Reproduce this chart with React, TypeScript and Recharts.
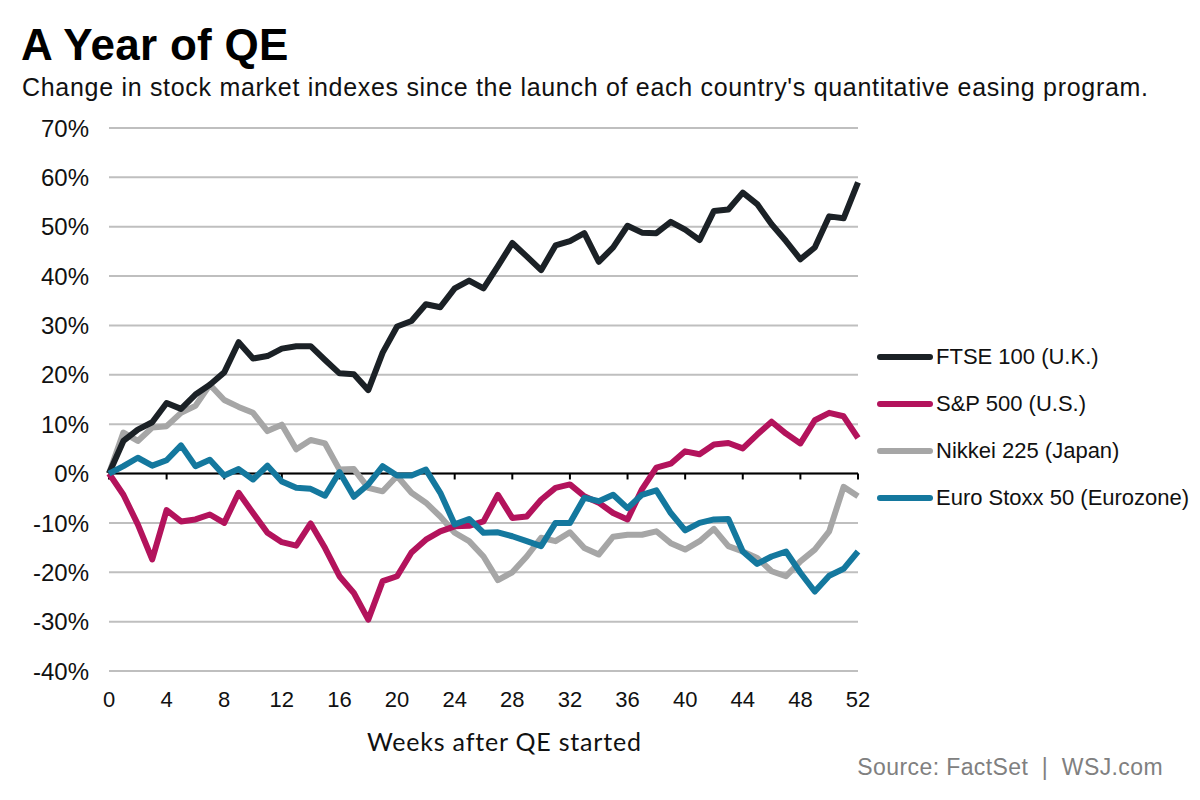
import { LineChart, Line, XAxis, YAxis, CartesianGrid, ReferenceLine, Legend } from "recharts"

const weeks = [
  0, 1, 2, 3, 4, 5, 6, 7, 8, 9, 10, 11, 12, 13, 14, 15, 16, 17, 18, 19, 20, 21, 22, 23, 24, 25, 26,
  27, 28, 29, 30, 31, 32, 33, 34, 35, 36, 37, 38, 39, 40, 41, 42, 43, 44, 45, 46, 47, 48, 49, 50, 51, 52,
]

const ftse = [
  0, 6.6, 8.9, 10.4, 14.3, 13.1, 16.0, 18.0, 20.5, 26.6,
  23.3, 23.8, 25.3, 25.8, 25.8, 23.0, 20.3, 20.1, 16.9, 24.5,
  29.8, 30.9, 34.3, 33.7, 37.5, 39.1, 37.5, 42.0, 46.7, 44.0,
  41.2, 46.2, 47.1, 48.7, 42.9, 45.8, 50.2, 48.8, 48.7, 51.0,
  49.4, 47.3, 53.2, 53.5, 56.9, 54.6, 50.5, 47.1, 43.4, 45.8,
  52.1, 51.7, 59.0,
]

const sp500 = [
  0, -4.3, -10.3, -17.4, -7.4, -9.7, -9.3, -8.3, -10.0, -3.9,
  -8.0, -12.0, -13.9, -14.6, -10.1, -15.1, -20.8, -24.2, -29.6, -21.8,
  -20.8, -16.0, -13.4, -11.7, -10.7, -10.6, -9.7, -4.3, -9.0, -8.7,
  -5.3, -2.9, -2.2, -4.6, -5.9, -8.0, -9.3, -3.2, 1.2, 2.0,
  4.5, 3.9, 5.9, 6.2, 5.1, 7.9, 10.5, 8.1, 6.1, 10.8,
  12.3, 11.6, 7.2,
]

const nikkei = [
  0, 8.3, 6.6, 9.3, 9.6, 12.3, 13.7, 18.0, 14.9, 13.5,
  12.3, 8.6, 9.9, 4.9, 6.8, 6.1, 0.8, 0.9, -2.9, -3.6,
  -0.5, -3.9, -5.9, -8.7, -12.0, -13.7, -16.8, -21.6, -20.0, -16.8,
  -13.0, -13.7, -11.9, -15.1, -16.4, -12.8, -12.4, -12.4, -11.7, -14.1,
  -15.4, -13.7, -11.2, -14.7, -15.8, -17.1, -19.8, -20.8, -17.8, -15.4,
  -11.7, -2.7, -4.6,
]

const stoxx = [
  0, 1.5, 3.2, 1.6, 2.7, 5.7, 1.5, 2.8, -0.4, 0.9,
  -1.2, 1.6, -1.6, -2.9, -3.1, -4.5, 0.3, -4.7, -2.2, 1.5,
  -0.4, -0.4, 0.8, -3.9, -10.3, -9.2, -12.0, -11.9, -12.7, -13.7,
  -14.7, -10.0, -10.0, -4.9, -5.6, -4.3, -7.0, -4.3, -3.4, -8.0,
  -11.5, -10.0, -9.3, -9.2, -15.8, -18.3, -16.8, -15.8, -20.1, -23.9,
  -20.7, -19.3, -15.8,
]

const xTicks = [0, 4, 8, 12, 16, 20, 24, 28, 32, 36, 40, 44, 48, 52]
const yTicks = [-40, -30, -20, -10, 0, 10, 20, 30, 40, 50, 60, 70]

const legendOrder = ["FTSE 100 (U.K.)", "S&P 500 (U.S.)", "Nikkei 225 (Japan)", "Euro Stoxx 50 (Eurozone)"]

const data = weeks.map((w, i) => ({
  week: w,
  ftse: ftse[i],
  sp500: sp500[i],
  nikkei: nikkei[i],
  stoxx: stoxx[i],
}))

const FONT = "'Liberation Sans', Arial, sans-serif"

function YTick({ x, y, payload }: any) {
  return (
    <text x={x - 12} y={y} dy="0.36em" textAnchor="end" fontSize={24} fill="#111" fontFamily={FONT}>
      {payload.value}%
    </text>
  )
}

function XTick({ x, y, payload }: any) {
  return (
    <text x={x} y={y} dy="1.25em" textAnchor="middle" fontSize={22} fill="#111" fontFamily={FONT}>
      {payload.value}
    </text>
  )
}

function LegendBox({ payload }: any) {
  const items = [...(payload || [])].sort(
    (a: any, b: any) => legendOrder.indexOf(a.value) - legendOrder.indexOf(b.value)
  )
  return (
    <div style={{ fontFamily: FONT }}>
      {items.map((it: any) => (
        <div key={it.value} style={{ display: "flex", alignItems: "center", height: 47 }}>
          <svg width={58} height={10} style={{ display: "block" }}>
            <line x1={4} y1={5} x2={54} y2={5} stroke={it.color} strokeWidth={6} strokeLinecap="round" />
          </svg>
          <span style={{ fontSize: 22, color: "#111", marginLeft: 2 }}>{it.value}</span>
        </div>
      ))}
    </div>
  )
}

export default function App() {
  return (
    <div style={{ position: "absolute", left: 0, top: 0, width: 1200, height: 800, background: "#fff", fontFamily: FONT }}>
      <div style={{ position: "absolute", left: 21, top: 19, fontSize: 44, fontWeight: 700, color: "#000", lineHeight: "52px", letterSpacing: 0.3 }}>
        A Year of QE
      </div>
      <div style={{ position: "absolute", left: 22, top: 72, fontSize: 25, color: "#111", lineHeight: "30px", whiteSpace: "nowrap", letterSpacing: 0.7 }}>
        Change in stock market indexes since the launch of each country's quantitative easing program.
      </div>

      <LineChart width={1200} height={800} data={data} margin={{ top: 128, right: 342, bottom: 0, left: 0 }}>
        <CartesianGrid horizontal vertical={false} stroke="#bfbfbf" strokeWidth={2} />
        <XAxis
          dataKey="week"
          type="number"
          domain={[0, 52]}
          ticks={xTicks}
          height={129}
          axisLine={false}
          tickLine={false}
          tick={<XTick />}
          interval={0}
        />
        <YAxis
          type="number"
          domain={[-40, 70]}
          ticks={yTicks}
          width={109}
          axisLine={false}
          tickLine={false}
          tick={<YTick />}
          interval={0}
        />
        <ReferenceLine y={0} stroke="#000" strokeWidth={2} />
        {xTicks.map((t) => (
          <ReferenceLine
            key={t}
            segment={[{ x: t, y: 0 }, { x: t, y: -1.2 }]}
            stroke="#000"
            strokeWidth={2}
          />
        ))}
        <Line dataKey="nikkei" name="Nikkei 225 (Japan)" stroke="#a6a6a6" strokeWidth={6} dot={false} isAnimationActive={false} strokeLinejoin="round" />
        <Line dataKey="sp500" name="S&P 500 (U.S.)" stroke="#b3135c" strokeWidth={6} dot={false} isAnimationActive={false} strokeLinejoin="round" />
        <Line dataKey="ftse" name="FTSE 100 (U.K.)" stroke="#1b2126" strokeWidth={6} dot={false} isAnimationActive={false} strokeLinejoin="round" />
        <Line dataKey="stoxx" name="Euro Stoxx 50 (Eurozone)" stroke="#14789e" strokeWidth={6} dot={false} isAnimationActive={false} strokeLinejoin="round" />
        <Legend
          layout="vertical"
          align="center"
          verticalAlign="middle"
          content={<LegendBox />}
          wrapperStyle={{ left: 876, top: 333, width: 320 }}
        />
      </LineChart>

      <div style={{ position: "absolute", left: 367, top: 726, fontSize: 25, color: "#111", fontFamily: "Lato, 'Open Sans', sans-serif", letterSpacing: 0.8, whiteSpace: "nowrap" }}>
        Weeks after QE started
      </div>
      <div style={{ position: "absolute", right: 37, top: 754, fontSize: 23, color: "#808080", whiteSpace: "nowrap", letterSpacing: 0.4 }}>
        Source: FactSet&nbsp;&nbsp;|&nbsp;&nbsp;WSJ.com
      </div>
    </div>
  )
}
